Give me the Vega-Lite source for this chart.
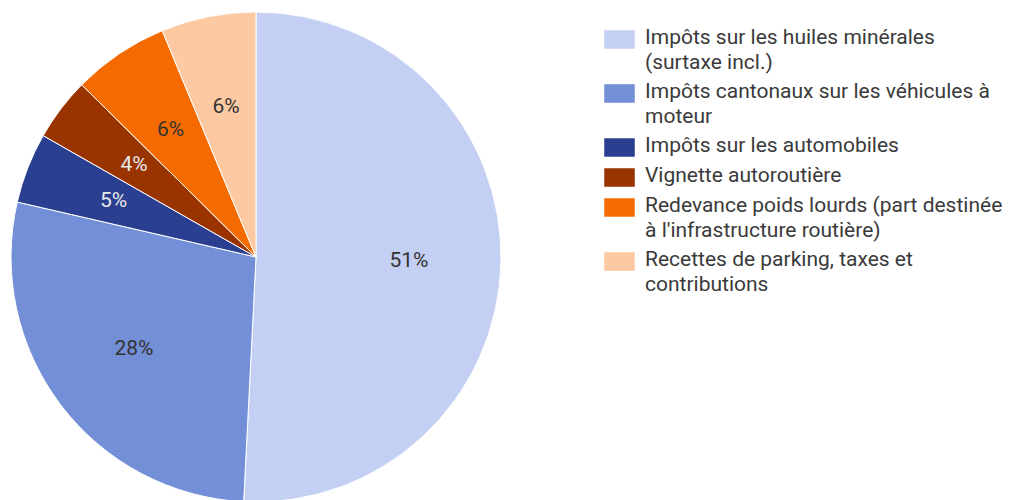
{
  "$schema": "https://vega.github.io/schema/vega-lite/v6.json",
  "width": 512,
  "height": 514,
  "padding": 0,
  "background": "white",
  "config": {
    "view": {"stroke": null},
    "font": "Roboto",
    "style": {"guide-label": {"lineHeight": 25, "dy": 4}}
  },
  "data": {
    "values": [
      {"category": "Impôts sur les huiles minérales (surtaxe incl.)", "value": 0.508, "order": 1},
      {"category": "Impôts cantonaux sur les véhicules à moteur", "value": 0.278, "order": 2},
      {"category": "Impôts sur les automobiles", "value": 0.0465, "order": 3},
      {"category": "Vignette autoroutière", "value": 0.0415, "order": 4},
      {"category": "Redevance poids lourds (part destinée à l'infrastructure routière)", "value": 0.0635, "order": 5},
      {"category": "Recettes de parking, taxes et contributions", "value": 0.0625, "order": 6}
    ]
  },
  "encoding": {
    "theta": {"field": "value", "type": "quantitative", "stack": true},
    "order": {"field": "order", "type": "quantitative"}
  },
  "layer": [
    {
      "mark": {"type": "arc", "outerRadius": 245, "stroke": "white", "strokeWidth": 1},
      "encoding": {
        "color": {
          "field": "category",
          "type": "nominal",
          "sort": {"field": "order"},
          "scale": {
            "domain": [
              "Impôts sur les huiles minérales (surtaxe incl.)",
              "Impôts cantonaux sur les véhicules à moteur",
              "Impôts sur les automobiles",
              "Vignette autoroutière",
              "Redevance poids lourds (part destinée à l'infrastructure routière)",
              "Recettes de parking, taxes et contributions"
            ],
            "range": ["#c3cff3", "#738fd8", "#2a3f8f", "#993300", "#f56b00", "#fdc9a3"]
          },
          "legend": {
            "title": null,
            "orient": "none",
            "legendX": 609,
            "legendY": 29,
            "symbolType": "M-1.65,-1H1.65V1H-1.65Z",
            "symbolSize": 342,
            "symbolStrokeWidth": 0,
            "symbolOpacity": 1,
            "labelFont": "Roboto",
            "labelFontSize": 21,
            "labelFontWeight": 400,
            "labelColor": "#3a3a3a",
            "labelLimit": 420,
            "labelOffset": 15,
            "labelBaseline": "alphabetic",
            "rowPadding": 7,
            "labelExpr": "datum.label == 'Impôts sur les huiles minérales (surtaxe incl.)' ? ['Impôts sur les huiles minérales', '(surtaxe incl.)'] : datum.label == 'Impôts cantonaux sur les véhicules à moteur' ? ['Impôts cantonaux sur les véhicules à', 'moteur'] : datum.label == \"Redevance poids lourds (part destinée à l'infrastructure routière)\" ? ['Redevance poids lourds (part destinée', \"à l'infrastructure routière)\"] : datum.label == 'Recettes de parking, taxes et contributions' ? ['Recettes de parking, taxes et', 'contributions'] : datum.label"
          }
        }
      }
    },
    {
      "mark": {"type": "text", "radius": 153, "font": "Roboto", "fontSize": 21, "fontWeight": 400},
      "encoding": {
        "text": {"field": "value", "type": "quantitative", "format": ".0%"},
        "color": {
          "condition": {"test": "datum.order == 3 || datum.order == 4", "value": "#e8e8e8"},
          "value": "#333333"
        }
      }
    }
  ]
}
